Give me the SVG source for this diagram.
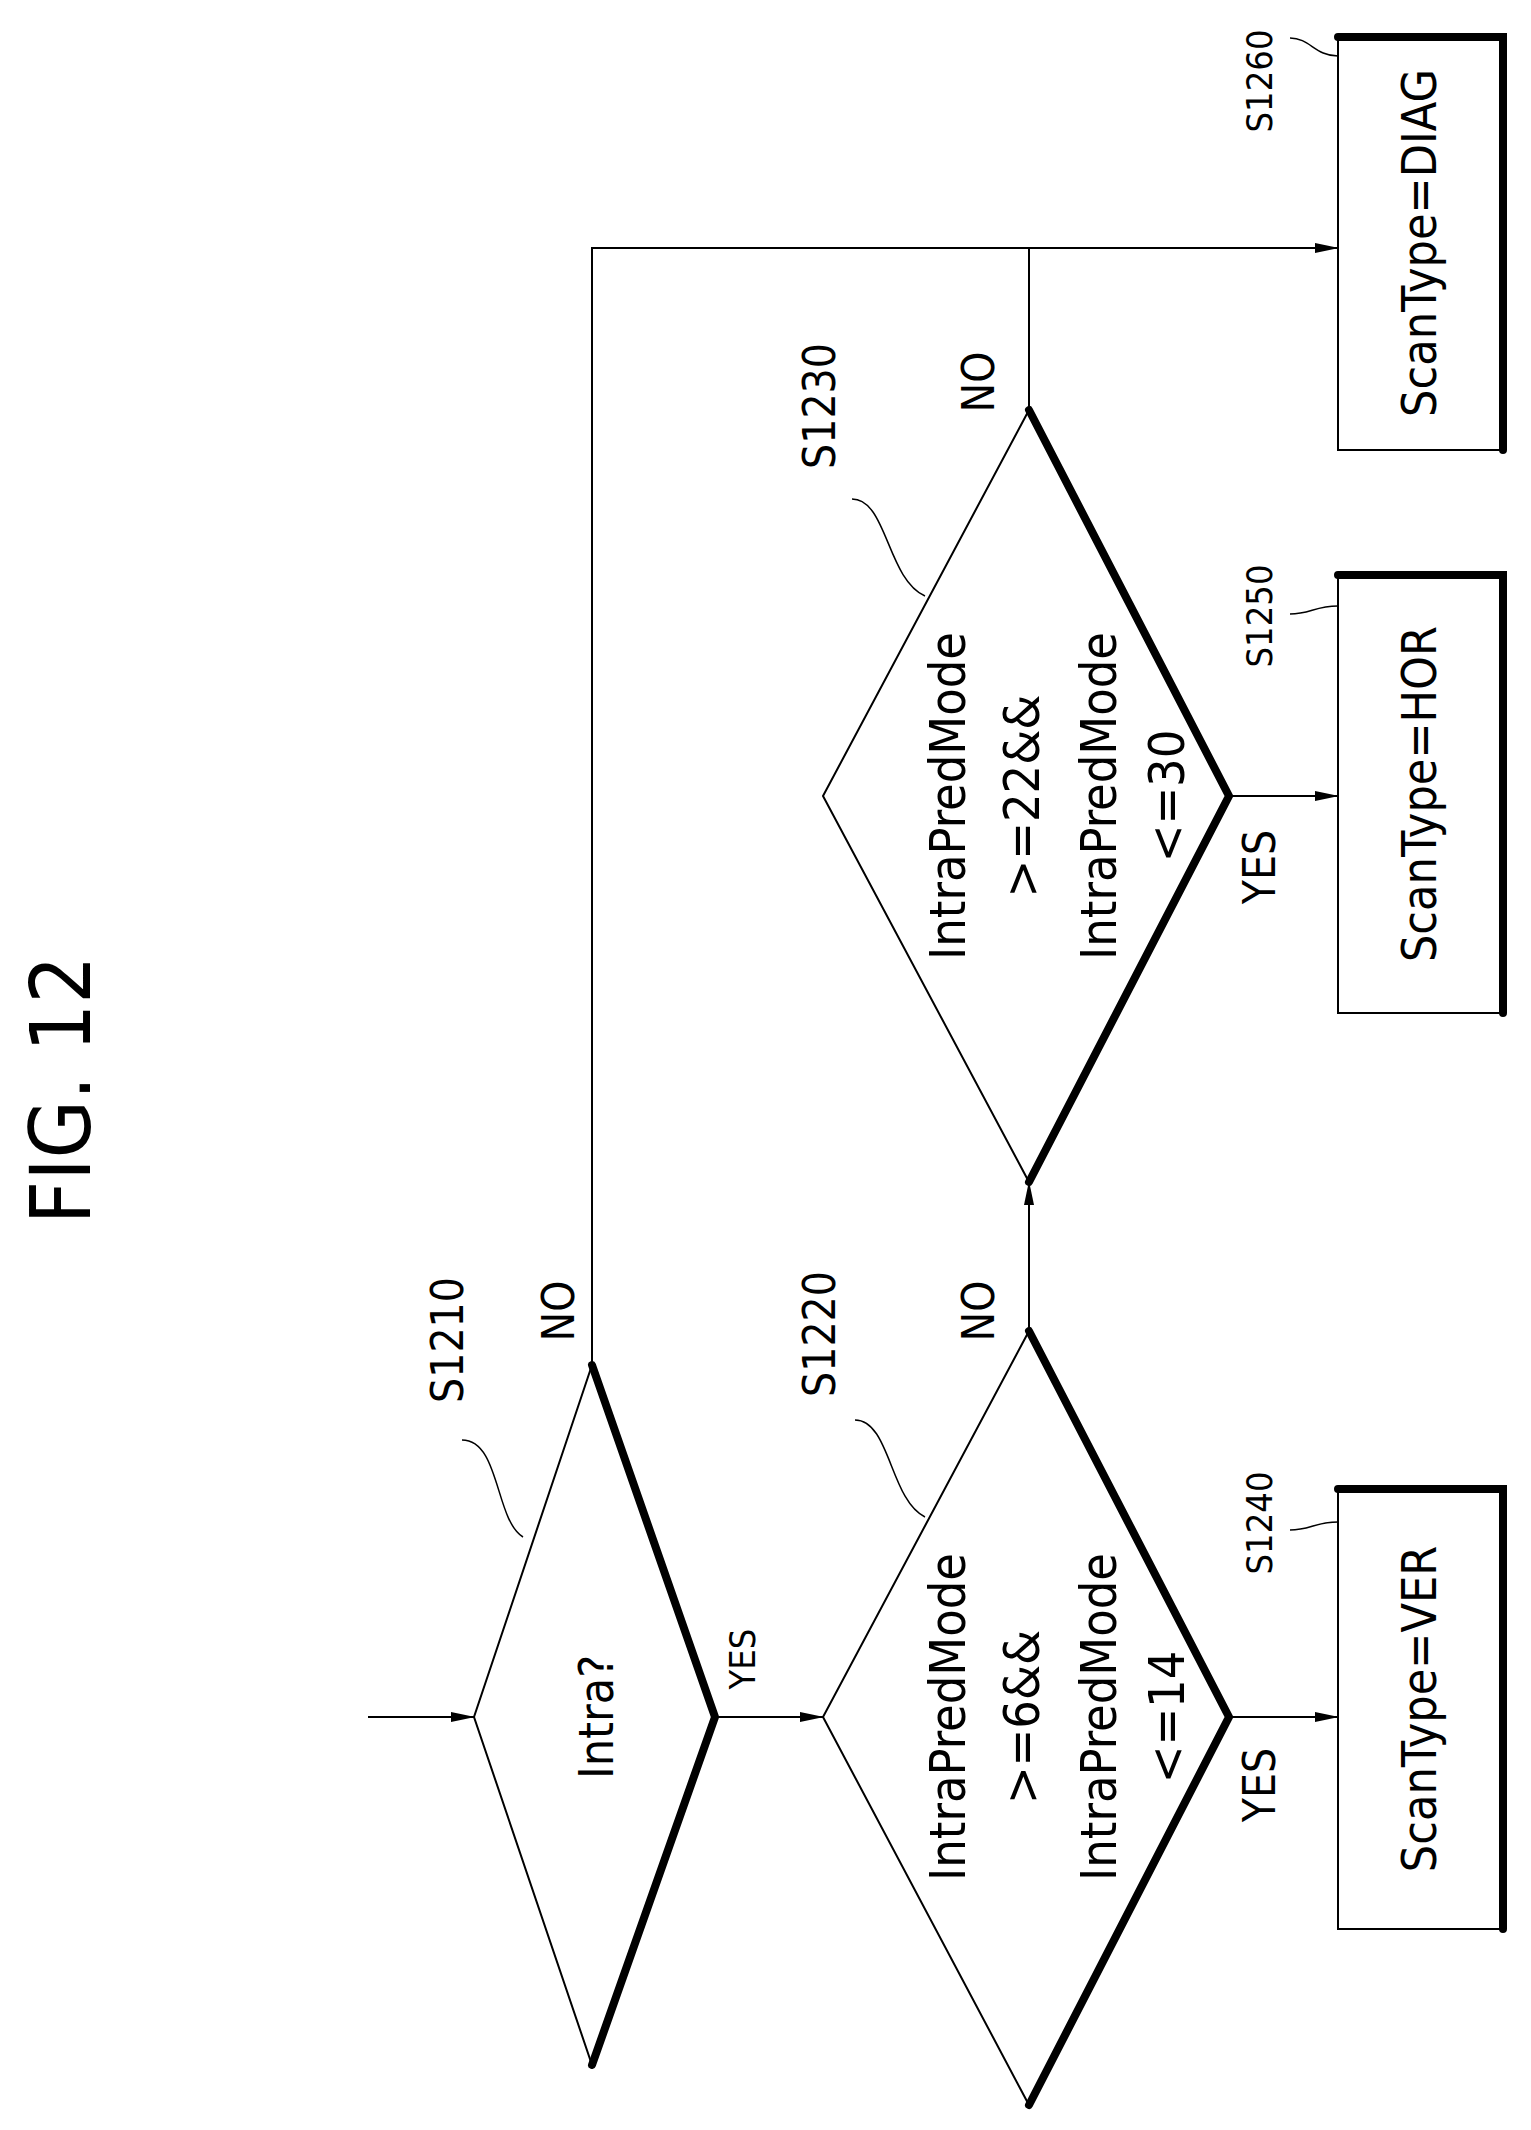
<svg xmlns="http://www.w3.org/2000/svg" width="1531" height="2130" viewBox="0 0 1531 2130">
<style>
.t{font-family:"DejaVu Sans Condensed","Liberation Sans",sans-serif;fill:#000;text-anchor:middle;dominant-baseline:central}
.thin{fill:none;stroke:#000;stroke-width:2}
.thick{fill:none;stroke:#000;stroke-width:8;stroke-linecap:round}
.ld{fill:none;stroke:#000;stroke-width:1.5}
.c{fill:none;stroke:#000;stroke-width:2;marker-end:url(#a)}
</style>
<defs><marker id="a" markerWidth="24" markerHeight="12" refX="23" refY="6" orient="auto" markerUnits="userSpaceOnUse"><path d="M0,1 L24,6 L0,11 Z"/></marker></defs>
<rect width="1531" height="2130" fill="#fff"/>
<text class="t" font-size="84" transform="translate(61,1090) rotate(-90)">FIG. 12</text>
<g id="connectors">
<line class="c" x1="368" y1="1717" x2="474" y2="1717"/>
<line class="c" x1="715" y1="1717" x2="823" y2="1717"/>
<line class="c" x1="1229" y1="1717" x2="1338" y2="1717"/>
<line class="c" x1="1029" y1="1331" x2="1029" y2="1182"/>
<line class="c" x1="1229" y1="796" x2="1338" y2="796"/>
<polyline class="c" points="592,1365 592,248 1338,248"/>
<line class="thin" x1="1029" y1="410" x2="1029" y2="248"/>
<text class="t" font-size="44" transform="translate(558,1311) rotate(-90)">NO</text>
<text class="t" font-size="36" transform="translate(742,1659) rotate(-90)">YES</text>
<text class="t" font-size="44" transform="translate(978,1311) rotate(-90)">NO</text>
<text class="t" font-size="44" transform="translate(1259,1785) rotate(-90)">YES</text>
<text class="t" font-size="44" transform="translate(978,382) rotate(-90)">NO</text>
<text class="t" font-size="44" transform="translate(1259,867) rotate(-90)">YES</text>
</g>
<g id="S1210">
<polygon class="thin" points="592,1365 715,1717 592,2065 474,1717"/>
<polyline class="thick" points="592,1365 715,1717 592,2065"/>
<text class="t" font-size="48" transform="translate(596,1717) rotate(-90)">Intra?</text>
<text class="t" font-size="44" transform="translate(447,1340) rotate(-90)">S1210</text>
<path class="ld" d="M462,1440 C500,1440 495,1520 523,1537"/>
</g>
<g id="S1220">
<polygon class="thin" points="1029,1331 1229,1717 1029,2105 823,1717"/>
<polyline class="thick" points="1029,1331 1229,1717 1029,2105"/>
<g class="t" font-size="50">
<text transform="translate(948,1717) rotate(-90)">IntraPredMode</text>
<text transform="translate(1022,1717) rotate(-90)">&gt;=6&amp;&amp;</text>
<text transform="translate(1099,1717) rotate(-90)">IntraPredMode</text>
<text transform="translate(1167,1717) rotate(-90)">&lt;=14</text>
</g>
<text class="t" font-size="44" transform="translate(819,1334) rotate(-90)">S1220</text>
<path class="ld" d="M855,1420 C890,1420 890,1500 925,1517"/>
</g>
<g id="S1230">
<polygon class="thin" points="1029,410 1229,796 1029,1182 823,796"/>
<polyline class="thick" points="1029,410 1229,796 1029,1182"/>
<g class="t" font-size="50">
<text transform="translate(948,796) rotate(-90)">IntraPredMode</text>
<text transform="translate(1022,796) rotate(-90)">&gt;=22&amp;&amp;</text>
<text transform="translate(1099,796) rotate(-90)">IntraPredMode</text>
<text transform="translate(1167,796) rotate(-90)">&lt;=30</text>
</g>
<text class="t" font-size="44" transform="translate(819,406) rotate(-90)">S1230</text>
<path class="ld" d="M852,499 C887,499 887,579 925,596"/>
</g>
<g id="S1240">
<rect class="thin" x="1338" y="1489" width="165" height="440"/>
<polyline class="thick" points="1338,1489 1503,1489 1503,1929"/>
<text class="t" font-size="48" transform="translate(1419,1709) rotate(-90)">ScanType=VER</text>
<text class="t" font-size="36" transform="translate(1259,1523) rotate(-90)">S1240</text>
<path class="ld" d="M1290,1530 C1310,1530 1315,1522 1338,1522"/>
</g>
<g id="S1250">
<rect class="thin" x="1338" y="575" width="165" height="438"/>
<polyline class="thick" points="1338,575 1503,575 1503,1013"/>
<text class="t" font-size="48" transform="translate(1419,794) rotate(-90)">ScanType=HOR</text>
<text class="t" font-size="36" transform="translate(1259,616) rotate(-90)">S1250</text>
<path class="ld" d="M1290,614 C1310,614 1315,606 1338,606"/>
</g>
<g id="S1260">
<rect class="thin" x="1338" y="37" width="165" height="413"/>
<polyline class="thick" points="1338,37 1503,37 1503,450"/>
<text class="t" font-size="48" transform="translate(1419,243) rotate(-90)">ScanType=DIAG</text>
<text class="t" font-size="36" transform="translate(1259,81) rotate(-90)">S1260</text>
<path class="ld" d="M1290,38 C1310,38 1315,56 1338,56"/>
</g>
</svg>
